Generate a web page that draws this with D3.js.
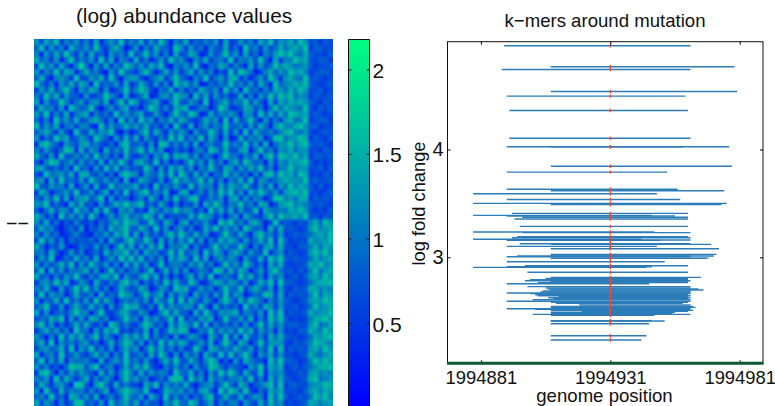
<!DOCTYPE html>
<html><head><meta charset="utf-8">
<script src="https://cdn.jsdelivr.net/npm/d3@7/dist/d3.min.js"></script>
<style>
html,body{margin:0;padding:0;background:#fff;overflow:hidden}
svg{display:block}
text{font-family:"Liberation Sans",Arial,sans-serif;fill:#111}
</style></head><body>
<svg id="c" width="775" height="406"></svg>
<script>
// Heatmap levels: one string per row, one digit per column
const heatRows = [
"6274815362 5170463825 3716284053 7142536071 2635174826 57486 23132",
"3816250743 6283157402 6052743186 1624053271 4083516247 46758 13322",
"5062738416 1724063518 2483615072 3750162483 6172405368 68547 32213",
"7351604825 3618270541 7150362846 2063714528 1546283071 55867 22331",
"2846173059 4062715386 3627481053 6281043751 5307162485 76456 31223",
"6153827604 7351062843 1584037261 4716250318 2864015736 48675 12332",
"3720564182 2647183056 6203571484 2053814627 7140362851 67548 23212",
"8415063727 5082436171 3741625085 7360142538 3526174083 56768 32123",
"1637258406 3751602482 5862043715 1427536082 6083415276 47586 22312",
"5284716330 6124853070 2470156386 5083716241 2715063848 68465 13223",
"7062385146 1563704828 6135720483 2641803572 5482630717 57676 32132",
"2745160853 4820361571 3048625176 7125403861 1376250484 76548 21323",
"6381527046 7052418363 5712630484 3860172546 4065183727 48767 23212",
"4150836272 3674150826 1846053727 5213746080 7248306151 67458 12331",
"8263704515 5108263474 6372415083 1704625383 3516274068 55786 33122",
"3574162083 2736581040 2581740636 4062385171 6081743525 78546 21232",
"6042857136 4185306272 7063152848 2538174060 1725460388 46687 13213",
"1785306426 7352140683 3416087252 6170452383 5382617046 68578 32321",
"5263148707 1640725383 5827360141 3045186272 2670483516 57466 22132",
"7416082353 6283514072 1350648276 7261530484 4153706828 76857 13323",
"3058724616 2517063841 6742815030 4836172505 7285340616 47678 31212",
"6732415083 4061837252 3285061747 2605384176 1637482505 58566 22313",
"2184563707 7325140686 5064372818 5172604383 6240517838 67487 12132",
"5607183426 1843625070 2753160484 6348271505 3718065246 76658 23223",
"8326451703 6071283545 7140825363 1826450737 5483162706 48576 31312",
"1750346282 3614705281 4682537016 7035162848 2607485361 67868 22123",
"4263817056 7258061430 3517406282 4781253606 7162540388 56477 13232",
"6581420737 2306147585 6824173050 3260748515 4835176026 78565 32321",
"3047265184 5172830646 1307526484 6514083727 1623807545 47686 21213",
"7514083626 1840362573 5486170323 2738651404 6074215838 66758 23132",
"6271403152 1304257486 6238417505 7143620858 3516740282 32132 57486",
"3745102416 0325174683 3751826046 1502748363 6185340727 23212 68567",
"5162401352 1043627581 7062415838 5273601484 2730684516 12323 46758",
"2836150423 2415073268 4385071626 3816052747 5162473808 31222 75668",
"7403261014 3162504837 1627380545 7052148363 3840516727 22133 57476",
"4517302615 0241736582 6074513828 2460837515 7516328046 13212 68685",
"2638014273 5170362848 3815260747 5182704636 4063271858 32322 47567",
"6152473806 2843615072 7260381454 1647250383 6285140737 21223 76856",
"3807261545 7160382514 5148037262 6035418727 2750361684 23132 58467",
"7240516383 1526748063 2683715040 4716280353 1847250636 12313 67586",
"1563847026 4073152684 6041528373 2850147636 5260374818 33212 46778",
"5372061484 8261503742 3750264186 7126350484 3815742606 21323 77565",
"2816450373 3507142865 1483570626 4073516282 6502438717 13232 58476",
"6043718252 6182740353 5260743818 2741630585 1738640526 32123 67687",
"3582160474 2735061486 7315082644 6518307242 4083527616 22312 48567",
"7160342585 5048213673 2640158373 3072841656 7154260838 13223 75668",
"2437580616 1763502484 5073624818 1426570383 3627051848 31212 57786",
"5826041373 7314086252 1586240737 6381705242 5160482736 23322 68457",
"1473625084 4062758131 4270613858 7015382646 2847163506 12133 76586",
"6305182747 2581630474 7381524060 3652074181 6083251747 32212 47678",
"4718063525 6140372586 2605183747 5136270484 1750382666 21323 58765",
"2563471806 3825160474 6048372515 1284076353 7436152808 13232 67586",
"7045182363 1473605282 3517284060 6350741828 2584063716 22123 75467",
"3816270544 5207146383 5162047383 2741586030 6175320848 33212 58686",
"6251304877 2681450373 7483105262 5062387414 3206481757 12313 46778",
"1784052636 4307261585 1726354084 3715062848 5173280646 21232 67565",
"5360827414 7152630484 6350241787 1846073525 4628150737 32123 78456",
"2741563088 3068417252 2074816353 7203561484 1750346828 13322 56687",
"6083172545 1524703686 5381027646 2516730848 6382041757 22213 67576",
"3518240763 6270351484 3607418252 5042681373 2714650838 31232 48685",
"7264051388 2416083573 7152306484 3861470525 5063172846 12123 76567"
];
const levelValues = [0.28,0.48,0.65,0.8,0.96,1.12,1.28,1.46,1.64,1.82];

const colorbarTicks = [0.5,1,1.5,2];
const colorDomain = [0.012,2.183];

// k-mer segments: start/end offsets from the mutation position, and log fold change
const mutationPos = 1994931;
const xTicks = [1994881,1994931,1994981];
const yTicks = [3,4];
const kmerStart = [-41,-23,-42,-23,-40,-39,-39,-40,-23,-23,-40,-40,-23,-23,-53,-40,
 -53,-23,-23,-38,-53,-40,-34,-37,-35,-53,-34,-36,-38,-53,-40,-40,-35,-23,-40,-23,-23,-23,-36,-40,-23,-23,-40,-33,-40,-53,
 -32,-23,-25,-31,-33,-23,-28,-40,-32,-25,-24,-23,-26,-27,-40,-31,-29,-28,-20,-24,-22,-30,-40,-23,-21,-12,-23,-23,-40,-29,-23,-11,-23,-23,-30,-23,
 -23,-23,-23,-23,-23];
const kmerEnd = [31,48,31,49,29,30,31,46,28,47,22,26,26,44,18,27,
 45,43,15,30,16,25,30,30,30,17,31,30,31,12,31,19,31,39,18,42,41,31,40,31,38,37,21,30,16,14,
 30,35,30,30,31,30,30,15,31,31,34,36,31,31,31,31,30,31,30,31,30,31,31,30,28,31,32,33,31,31,32,30,25,24,31,17,
 16,21,15,14,12];
const kmerFold = [4.962,4.767,4.742,4.538,4.495,4.362,4.105,4.025,4.025,3.845,3.79,3.632,3.623,3.617,3.589,3.536,
 3.50,3.49,3.494,3.408,3.389,3.383,3.371,3.355,3.287,3.235,3.229,3.191,3.182,3.167,3.16,3.157,3.126,3.12,3.102,3.08,3.027,3.021,3.012,3.006,2.993,2.99,2.959,2.922,2.913,2.907,
 2.861,2.814,2.805,2.793,2.783,2.774,2.765,2.755,2.728,2.715,2.706,2.697,2.687,2.678,2.669,2.663,2.653,2.644,2.635,2.625,2.616,2.607,2.592,2.582,2.573,2.558,2.545,2.536,2.523,2.517,2.508,2.499,2.49,2.477,2.471,2.462,
 2.412,2.409,2.384,2.273,2.233];

const svg = d3.select("#c");
const grid = heatRows.map(r => r.replace(/ /g,"").split("").map(d => levelValues[+d]));

const color = d3.scaleLinear().domain(colorDomain).range(["rgb(0,0,255)","rgb(0,255,128)"]);

// ---------- heatmap
const hx = d3.scaleBand().domain(d3.range(grid[0].length)).range([34,333]);
const hy = d3.scaleBand().domain(d3.range(grid.length)).range([39,406]);
const defs = svg.append("defs");
defs.append("clipPath").attr("id","hc").append("rect")
  .attr("x",34).attr("y",39).attr("width",299).attr("height",367);
const bl = defs.append("filter").attr("id","bl").attr("filterUnits","userSpaceOnUse")
  .attr("x",24).attr("y",29).attr("width",320).attr("height",390);
bl.append("feGaussianBlur").attr("stdDeviation",1);
const hOuter = svg.append("g").attr("clip-path","url(#hc)");
hOuter.append("rect").attr("x",34).attr("y",39).attr("width",299).attr("height",367).attr("fill",color(0.9));
const hInner = hOuter.append("g").attr("filter","url(#bl)");
grid.forEach((row,i) => {
  hInner.selectAll(null).data(row).enter().append("rect")
    .attr("x",(d,j)=>hx(j)).attr("y",hy(i))
    .attr("width",hx.bandwidth()+0.5).attr("height",hy.bandwidth()+0.5)
    .attr("fill",d=>color(d));
});

svg.append("text").attr("x",184).attr("y",23).attr("text-anchor","middle")
  .attr("font-size",20.8).text("(log) abundance values");
svg.append("text").attr("x",6).attr("y",230).attr("font-size",19.5).text("−−");

// ---------- colorbar
const cy = d3.scaleLinear().domain(colorDomain).range([406,39]);
const cg = svg.append("g");
cg.selectAll("rect").data(d3.range(39,406)).enter().append("rect")
  .attr("x",348).attr("y",d=>d).attr("width",21.5).attr("height",1.2)
  .attr("fill",d=>color(cy.invert(d+0.5)));
cg.append("path").attr("d","M348.5,406V39.5H369.5V406").attr("fill","none").attr("stroke","#111").attr("stroke-width",1);
cg.selectAll("path.t").data(colorbarTicks).enter().append("path").attr("class","t")
  .attr("d",d=>`M348.5,${cy(d)}h3M369.5,${cy(d)}h-3`).attr("stroke","#222").attr("stroke-width",1);
cg.selectAll("text").data(colorbarTicks).enter().append("text")
  .attr("x",372.5).attr("y",d=>cy(d)+8).attr("font-size",21)
  .text(d=>d);

// ---------- segments panel
const L=447.5,R=763,T=41.7,B=363.3;
const x = d3.scaleLinear().domain([1994868.1,1994990]).range([L,R]);
const y = d3.scaleLinear().domain([2.017,5]).range([B,T]);

const seg = svg.append("g");
seg.selectAll("line").data(kmerFold).enter().append("line")
  .attr("x1",(d,i)=>x(mutationPos+kmerStart[i])).attr("x2",(d,i)=>x(mutationPos+kmerEnd[i]))
  .attr("y1",d=>y(d)).attr("y2",d=>y(d))
  .attr("stroke","#2b7cb9").attr("stroke-width",1.4);
seg.selectAll("path").data(kmerFold).enter().append("path")
  .attr("d",d=>`M${x(mutationPos)},${y(d)-1.7}V${y(d)+1.7}`)
  .attr("stroke","#f6452a").attr("stroke-width",1.3);

svg.append("rect").attr("x",L).attr("y",T).attr("width",R-L).attr("height",B-T)
  .attr("fill","none").attr("stroke","#111").attr("stroke-width",1);

const ax = d3.axisBottom(x).tickValues(xTicks).tickFormat(d3.format("d")).tickSize(-3).tickPadding(8);
const gx = svg.append("g").attr("transform",`translate(0,${B})`).call(ax);
gx.select(".domain").remove();
gx.selectAll("text").attr("font-size",18.4).attr("fill","#111").attr("font-family",'"Liberation Sans"');
const axt = d3.axisTop(x).tickValues(xTicks).tickFormat("").tickSize(-3);
svg.append("g").attr("transform",`translate(0,${T})`).call(axt).select(".domain").remove();

const ay = d3.axisLeft(y).tickValues(yTicks).tickFormat(d3.format("d")).tickSize(-3).tickPadding(4);
const gy = svg.append("g").attr("transform",`translate(${L},0)`).call(ay);
gy.select(".domain").remove();
gy.selectAll("text").attr("font-size",20).attr("fill","#111").attr("font-family",'"Liberation Sans"');
const ayr = d3.axisRight(y).tickValues(yTicks).tickFormat("").tickSize(-3);
svg.append("g").attr("transform",`translate(${R},0)`).call(ayr).select(".domain").remove();

// green baseline
svg.append("line").attr("x1",L-0.5).attr("x2",R+0.5).attr("y1",y(2.017)).attr("y2",y(2.017))
  .attr("stroke","#0a5a32").attr("stroke-width",3);

svg.append("text").attr("x",605).attr("y",27).attr("text-anchor","middle").attr("font-size",18.6).text("k−mers around mutation");
svg.append("text").attr("x",604.5).attr("y",401.5).attr("text-anchor","middle").attr("font-size",18.6).text("genome position");
svg.append("text").attr("transform","translate(425,203.5) rotate(-90)").attr("text-anchor","middle").attr("font-size",18.3).text("log fold change");
</script>
</body></html>
